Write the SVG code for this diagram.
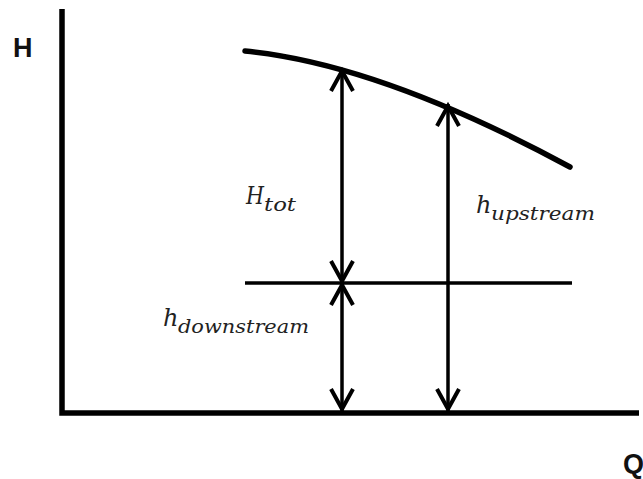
<svg xmlns="http://www.w3.org/2000/svg" width="643" height="479" viewBox="0 0 643 479">
  <style>
    .ax { stroke: #000; stroke-width: 5.5; fill: none; }
    .ln { stroke: #000; stroke-width: 3.5; fill: none; }
    .dim { stroke: #000; stroke-width: 3.5; fill: none; marker-start: url(#ah); marker-end: url(#ah); }
    .axl { font-family: "Liberation Sans", Arial, sans-serif; font-weight: bold; font-size: 27px; fill: #111; }
    .m { font-family: "DejaVu Serif", "Liberation Serif", serif; font-style: italic; fill: #222; }
    .big { font-size: 24px; }
    .sub { font-size: 19px; }
  </style>
  <defs>
    <marker id="ah" viewBox="-26 -15 30 30" refX="0" refY="0" markerWidth="30" markerHeight="30" markerUnits="userSpaceOnUse" orient="auto-start-reverse">
      <path d="M -22,-11 L -2,0 L -22,11" stroke="#000" stroke-width="4" fill="none" stroke-linejoin="miter"/>
    </marker>
  </defs>
  <rect width="643" height="479" fill="#fff"/>
  <g id="axes">
    <path class="ax" d="M62,9 V413 H639"/>
    <text class="axl" x="13" y="57">H</text>
    <text class="axl" x="623" y="473">Q</text>
  </g>
  <g id="curve">
    <path class="ax" d="M245,51 Q380,64 570,167" stroke-linecap="round" stroke-width="5"/>
  </g>
  <g id="downstream-line">
    <line class="ln" x1="245" y1="283" x2="572" y2="283"/>
  </g>
  <g id="connectors">
    <line class="dim" x1="342" y1="69" x2="342" y2="283"/>
    <line class="dim" x1="342" y1="283" x2="342" y2="411"/>
    <line class="dim" x1="448" y1="104" x2="448" y2="411"/>
  </g>
  <g id="label-Htot">
    <text class="m big" x="246" y="204" textLength="18" lengthAdjust="spacingAndGlyphs">H</text>
    <text class="m sub" x="264" y="211" textLength="32" lengthAdjust="spacingAndGlyphs">tot</text>
  </g>
  <g id="label-hupstream">
    <text class="m big" x="476" y="213">h</text>
    <text class="m sub" x="491" y="220" textLength="104" lengthAdjust="spacingAndGlyphs">upstream</text>
  </g>
  <g id="label-hdownstream">
    <text class="m big" x="163" y="326">h</text>
    <text class="m sub" x="178" y="333" textLength="131" lengthAdjust="spacingAndGlyphs">downstream</text>
  </g>
</svg>
